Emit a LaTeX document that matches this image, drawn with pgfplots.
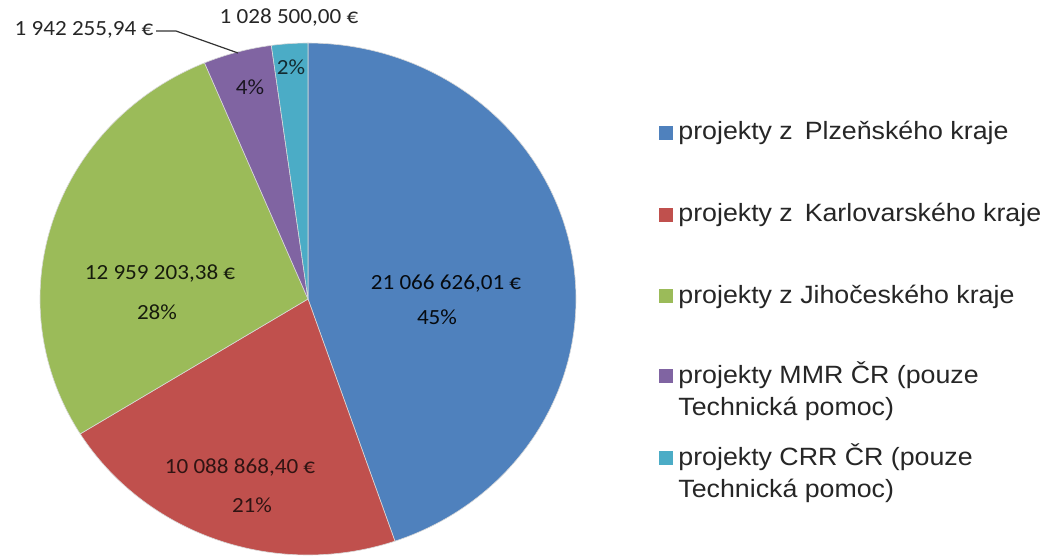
\documentclass[border=0pt]{standalone}
\usepackage{fontspec}
\setmainfont{Liberation Sans}
\newfontfamily\lblfont{Carlito}
\usepackage{pgfplots}
\usepackage{pgfplotstable}
\pgfplotsset{compat=1.18}

\definecolor{cPlz}{HTML}{4F81BD}
\definecolor{cKar}{HTML}{C0504D}
\definecolor{cJih}{HTML}{9BBB59}
\definecolor{cMMR}{HTML}{8064A2}
\definecolor{cCRR}{HTML}{4BACC6}
\definecolor{txt}{HTML}{262626}

% amounts in EUR, clockwise from 12 o'clock
\pgfplotstableread{
val
21066626.01
10088868.40
12959203.38
1942255.94
1028500.00
}\pietable

\begin{document}
\begin{tikzpicture}[
    lbl/.style={font=\lblfont\fontsize{10.8}{13}\selectfont, xscale=1.07, transform shape},
    leg/.style={anchor=base west, inner xsep=0pt, text=txt, font=\fontsize{12.5}{15}\selectfont, xscale=1.07, transform shape},
]
% slice boundary angles (degrees)
\pgfkeys{/pgf/fpu=true,/pgf/fpu/output format=fixed}
\pgfplotstablegetelem{0}{val}\of\pietable \pgfmathsetmacro\vA{\pgfplotsretval}
\pgfplotstablegetelem{1}{val}\of\pietable \pgfmathsetmacro\vB{\pgfplotsretval}
\pgfplotstablegetelem{2}{val}\of\pietable \pgfmathsetmacro\vC{\pgfplotsretval}
\pgfplotstablegetelem{3}{val}\of\pietable \pgfmathsetmacro\vD{\pgfplotsretval}
\pgfplotstablegetelem{4}{val}\of\pietable \pgfmathsetmacro\vE{\pgfplotsretval}
\pgfmathsetmacro\tot{\vA+\vB+\vC+\vD+\vE}
\pgfmathsetmacro\aA{90-360*\vA/\tot}
\pgfmathsetmacro\aB{\aA-360*\vB/\tot}
\pgfmathsetmacro\aC{\aB-360*\vC/\tot}
\pgfmathsetmacro\aD{\aC-360*\vD/\tot}
\pgfkeys{/pgf/fpu=false}
\begin{axis}[
    x=0.5pt, y=0.5pt,
    xmin=0, xmax=1060, ymin=0, ymax=558,
    scale only axis, hide axis, clip=false,
    slice/.style={draw=white!85!black, line width=0.3pt, samples=120, variable=\t},
]
\addplot[draw=none] coordinates {(0,0) (1060,558)};

\addplot[slice, fill=cPlz, domain=\aA:90] ({308+268*cos(\t)},{259+256*sin(\t)}) -- (axis cs:308,259) -- cycle;
\addplot[slice, fill=cKar, domain=\aB:\aA] ({308+268*cos(\t)},{259+256*sin(\t)}) -- (axis cs:308,259) -- cycle;
\addplot[slice, fill=cJih, domain=\aC:\aB] ({308+268*cos(\t)},{259+256*sin(\t)}) -- (axis cs:308,259) -- cycle;
\addplot[slice, fill=cMMR, domain=\aD:\aC] ({308+268*cos(\t)},{259+256*sin(\t)}) -- (axis cs:308,259) -- cycle;
\addplot[slice, fill=cCRR, domain=-270:\aD] ({308+268*cos(\t)},{259+256*sin(\t)}) -- (axis cs:308,259) -- cycle;

% data labels
\node[lbl, text=black!80!cPlz!40!black] at (axis cs:446,274) {21~066~626,01~€};
\node[lbl, text=black!80!cPlz!40!black] at (axis cs:437,241) {45\%};
\node[lbl, text=black!85!cJih] at (axis cs:160,284) {12~959~203,38~€};
\node[lbl, text=black!85!cJih] at (axis cs:157,246) {28\%};
\node[lbl, text=black!75!cKar] at (axis cs:240,90) {10~088~868,40~€};
\node[lbl, text=black!75!cKar] at (axis cs:252,53) {21\%};
\node[lbl, text=black!80!cMMR] at (axis cs:250,471) {4\%};
\node[lbl, text=black!75!cCRR] at (axis cs:291,491) {2\%};
\node[lbl, text=txt] at (axis cs:84,528) {1~942~255,94~€};
\node[lbl, text=txt] at (axis cs:289,540) {1~028~500,00~€};
\draw[black!80, line width=0.6pt] (axis cs:156,527) -- (axis cs:176,527) -- (axis cs:238,505);

% legend
\fill[cPlz] (axis cs:659,418) rectangle (axis cs:673,432);
\node[leg] at (axis cs:678,418) {projekty z\, Plzeňského kraje};
\fill[cKar] (axis cs:659,336) rectangle (axis cs:673,350);
\node[leg] at (axis cs:678,336) {projekty z\, Karlovarského kraje};
\fill[cJih] (axis cs:659,255) rectangle (axis cs:673,269);
\node[leg] at (axis cs:678,255) {projekty z Jihočeského kraje};
\fill[cMMR] (axis cs:659,175) rectangle (axis cs:673,189);
\node[leg] at (axis cs:678,175) {projekty MMR ČR (pouze};
\node[leg] at (axis cs:678,143) {Technická pomoc)};
\fill[cCRR] (axis cs:659,93) rectangle (axis cs:673,107);
\node[leg] at (axis cs:678,93) {projekty CRR ČR (pouze};
\node[leg] at (axis cs:678,61) {Technická pomoc)};
\end{axis}
\end{tikzpicture}
\end{document}
